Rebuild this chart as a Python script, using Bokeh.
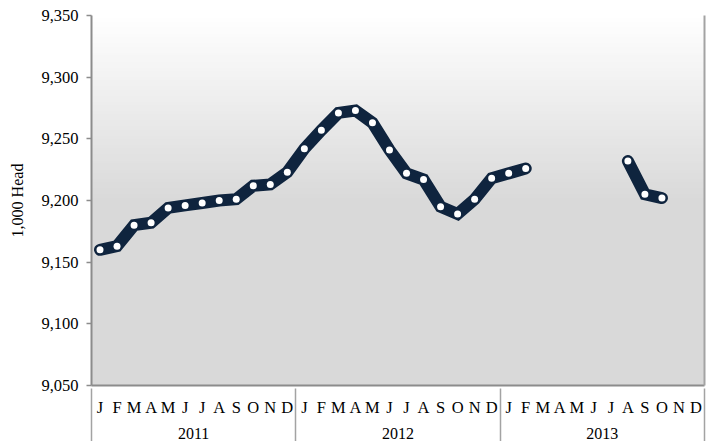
import numpy as np
from bokeh.plotting import figure
from bokeh.models import Range1d, FixedTicker, NumeralTickFormatter, LinearAxis
from bokeh.embed import file_html
from bokeh.resources import INLINE

# ---- data ----
months = ["J", "F", "M", "A", "M", "J", "J", "A", "S", "O", "N", "D"]
years = ["2011", "2012", "2013"]
values_2011 = [9160, 9163, 9180, 9182, 9194, 9196, 9198, 9200, 9201, 9212, 9213, 9223]
values_2012 = [9242, 9257, 9271, 9273, 9263, 9241, 9222, 9217, 9195, 9189, 9201, 9218]
values_2013 = [9222, 9226, None, None, None, None, None, 9232, 9205, 9202, None, None]
y_ticks = [9050, 9100, 9150, 9200, 9250, 9300, 9350]
y_label = "1,000 Head"

FONT = "Liberation Serif"
Y_MIN, Y_MAX = y_ticks[0], y_ticks[-1]

series = values_2011 + values_2012 + values_2013
yv = np.array([np.nan if v is None else v for v in series], dtype=float)
xv = np.arange(len(yv), dtype=float)
n = len(yv)

p = figure(width=712, height=441, output_backend="svg", toolbar_location=None,
           x_range=Range1d(-0.5, n - 0.5), y_range=Range1d(Y_MIN, Y_MAX),
           x_axis_location=None,
           min_border_left=91, min_border_top=15, min_border_right=8, min_border_bottom=0,
           background_fill_color="white", border_fill_color="white",
           outline_line_color=None)

# gradient background: white at top to light gray at 9200, flat below
grad_top, grad_bot = Y_MAX, 9200
nstrip = 60
edges = np.linspace(grad_top, grad_bot, nstrip + 1)
c0 = np.array([255, 255, 255]); c1 = np.array([217, 217, 217])
cols = []
for i in range(nstrip):
    t = (i + 0.5) / nstrip
    c = (c0 + (c1 - c0) * t).round().astype(int)
    cols.append("#%02x%02x%02x" % tuple(c))
p.quad(left=-0.5, right=n - 0.5, top=edges[:-1], bottom=edges[1:] - 1.0,
       fill_color=cols, line_color=None)
p.quad(left=-0.5, right=n - 0.5, top=grad_bot, bottom=Y_MIN,
       fill_color="#d9d9d9", line_color=None)

# y axis
yax = p.yaxis[0]
yax.ticker = FixedTicker(ticks=y_ticks)
yax.formatter = NumeralTickFormatter(format="0,0")
yax.axis_label = y_label
yax.axis_label_text_font = FONT
yax.axis_label_text_font_style = "normal"
yax.axis_label_text_font_size = "16px"
yax.axis_label_text_color = "black"
yax.axis_label_standoff = 12
yax.major_label_text_font = FONT
yax.major_label_text_font_size = "16.5px"
yax.major_label_text_color = "black"
yax.major_label_standoff = 8
yax.major_tick_out = 5
yax.major_tick_in = 0
yax.major_tick_line_color = "#8c8c8c"
yax.major_tick_line_width = 1.5
yax.minor_tick_line_color = None
yax.axis_line_color = "#8c8c8c"
yax.axis_line_width = 2

p.ygrid.ticker = FixedTicker(ticks=y_ticks)
p.ygrid.grid_line_color = "#a3a3a3"
p.ygrid.grid_line_width = 1.5
p.xgrid.visible = False

# month axis
month_pos = list(range(n))
month_labels = months * len(years)
max_ = LinearAxis(ticker=FixedTicker(ticks=month_pos, minor_ticks=[]),
                  major_label_overrides={i: month_labels[i] for i in month_pos},
                  major_label_text_font=FONT, major_label_text_font_size="16.5px",
                  major_label_text_color="black", major_label_standoff=12,
                  major_tick_out=0, major_tick_in=0, minor_tick_out=0, minor_tick_in=0,
                  axis_line_color="#8c8c8c", axis_line_width=2)
p.add_layout(max_, "below")

# year axis; year separators drawn as its minor ticks reaching up to the plot area
year_pos = [12 * i + 5.5 for i in range(len(years))]
bounds = [12 * i - 0.5 for i in range(len(years) + 1)]
yrax = LinearAxis(ticker=FixedTicker(ticks=year_pos, minor_ticks=bounds),
                  major_label_overrides={year_pos[i]: years[i] for i in range(len(years))},
                  major_label_text_font=FONT, major_label_text_font_size="16px",
                  major_label_text_color="black", major_label_standoff=-18,
                  major_tick_out=0, major_tick_in=0, minor_tick_out=26, minor_tick_in=31,
                  minor_tick_line_color="#a3a3a3", minor_tick_line_width=1.5,
                  axis_line_color=None)
p.add_layout(yrax, "below")

# right border line
rax = LinearAxis(ticker=FixedTicker(ticks=[]), major_label_text_font_size="0px",
                 major_tick_out=0, major_tick_in=0, minor_tick_out=0, minor_tick_in=0,
                 major_label_standoff=0, axis_line_color="#a3a3a3", axis_line_width=2)
p.add_layout(rax, "right")

# series
p.line(xv, yv, line_color="#0f243e", line_width=12, line_cap="round", line_join="miter")
p.scatter(xv, yv, size=7, fill_color="white", line_color=None)

open("out.html", "w").write(file_html(p, INLINE))
